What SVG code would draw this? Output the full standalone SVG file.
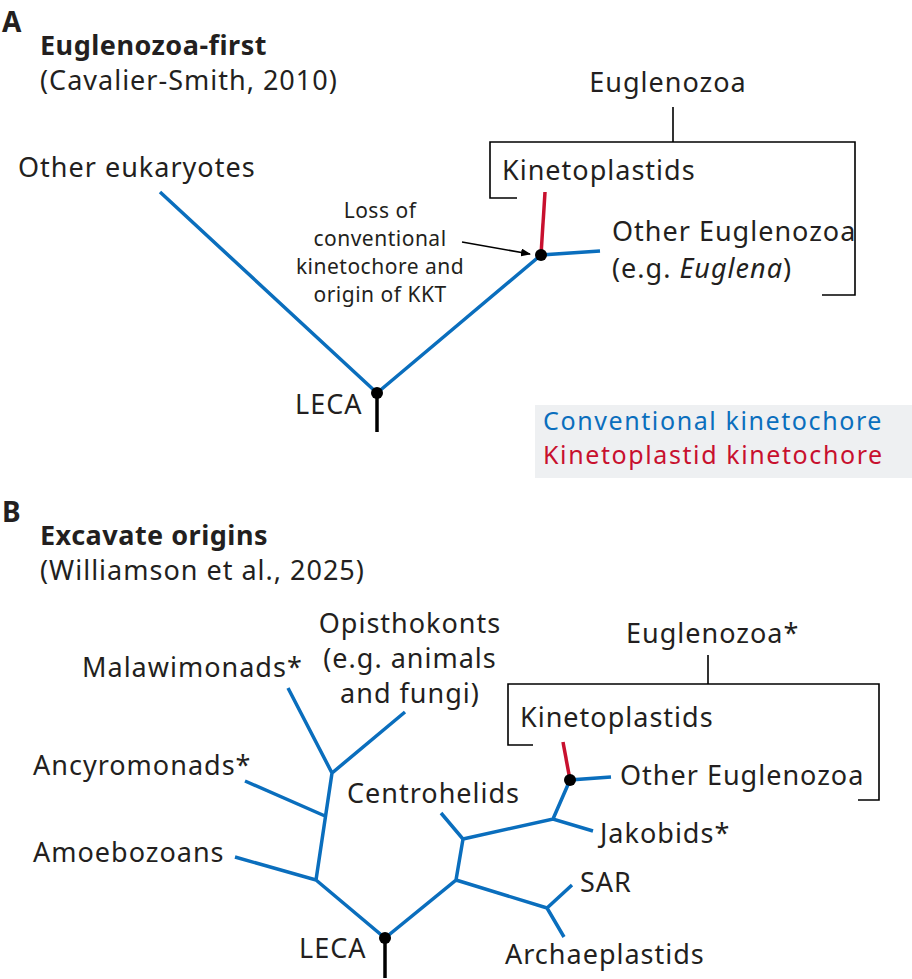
<svg xmlns="http://www.w3.org/2000/svg" width="912" height="979" viewBox="0 0 912 979">
<style>
text{font-family:"Noto Sans","DejaVu Sans",sans-serif;font-size:27px;letter-spacing:1px;fill:#231f20}
.b{fill:none;stroke:#0a6ebd;stroke-width:3.5}
.r{fill:none;stroke:#c8102e;stroke-width:3.5}
.k{fill:none;stroke:#000;stroke-width:1.6}
.s{fill:none;stroke:#000;stroke-width:3.5}
.h{font-weight:bold;letter-spacing:0.5px}
.sm{font-size:21px;letter-spacing:0.5px}
.lg{font-size:25px;letter-spacing:1.6px}
</style>
<defs><marker id="ar" markerWidth="10" markerHeight="8" refX="9" refY="4" orient="auto" markerUnits="userSpaceOnUse"><path d="M0,0L10,4L0,8Z" fill="#000"/></marker></defs>
<text x="2" y="32" class="h" style="font-size:28px">A</text>
<text x="2" y="522" class="h" style="font-size:28px">B</text>
<g id="titleA"><text x="40" y="55" class="h">Euglenozoa-first</text><text x="40" y="90">(Cavalier-Smith, 2010)</text></g>
<g id="titleB"><text x="40" y="545" class="h">Excavate origins</text><text x="40" y="580">(Williamson et al., 2025)</text></g>
<g id="connectors">
<path class="b" d="M160,192L377,393L541,255L600,251"/>
<path class="s" d="M377,393V432"/>
<path class="r" d="M545,192L541,255"/>
<path class="k" d="M462,242L530,254" stroke-width="3" marker-end="url(#ar)"/>
<path class="k" d="M517,198H490V142H855V295H822M673,107V142"/>
<path class="b" d="M288,688L332,773L405,712M332,773L316,880L235,857M245,781L325,816M316,880L385,938L456,880L463,839L441,813M463,839L553,819L593,831M553,819L570,780L611,777M456,880L547,908L572,885M547,908L564,937"/>
<path class="r" d="M563,742L570,780"/>
<path class="s" d="M385,938V978"/>
<path class="k" d="M533,745H508V684H879V800H858M708,655V684"/>
</g>
<g id="dots"><circle cx="377" cy="393" r="6"/><circle cx="541" cy="255" r="6"/><circle cx="385" cy="938" r="6"/><circle cx="570" cy="780" r="6"/></g>
<g id="nodesA">
<text x="18" y="177">Other eukaryotes</text>
<text x="668" y="92" text-anchor="middle">Euglenozoa</text>
<text x="502" y="180">Kinetoplastids</text>
<text x="612" y="241">Other Euglenozoa</text>
<text x="612" y="278">(e.g. <tspan font-style="italic">Euglena</tspan>)</text>
<text x="380" y="218" text-anchor="middle" class="sm">Loss of</text><text x="380" y="246" text-anchor="middle" class="sm">conventional</text><text x="380" y="274" text-anchor="middle" class="sm">kinetochore and</text><text x="380" y="302" text-anchor="middle" class="sm">origin of KKT</text>
<text x="295" y="414">LECA</text>
</g>
<g id="legend"><rect x="535" y="405" width="377" height="73" fill="#eef0f2"/>
<text x="543" y="430" class="lg" style="fill:#0a6ebd">Conventional kinetochore</text>
<text x="543" y="464" class="lg" style="fill:#c8102e">Kinetoplastid kinetochore</text></g>
<g id="nodesB">
<text x="410" y="633" text-anchor="middle">Opisthokonts</text>
<text x="410" y="668" text-anchor="middle">(e.g. animals</text>
<text x="410" y="703" text-anchor="middle">and fungi)</text>
<text x="82" y="677">Malawimonads*</text>
<text x="33" y="775">Ancyromonads*</text>
<text x="33" y="862">Amoebozoans</text>
<text x="347" y="803">Centrohelids</text>
<text x="626" y="643">Euglenozoa*</text>
<text x="520" y="727">Kinetoplastids</text>
<text x="620" y="785">Other Euglenozoa</text>
<text x="600" y="843">Jakobids*</text>
<text x="580" y="892">SAR</text>
<text x="505" y="964">Archaeplastids</text>
<text x="299" y="958">LECA</text>
</g>
</svg>
